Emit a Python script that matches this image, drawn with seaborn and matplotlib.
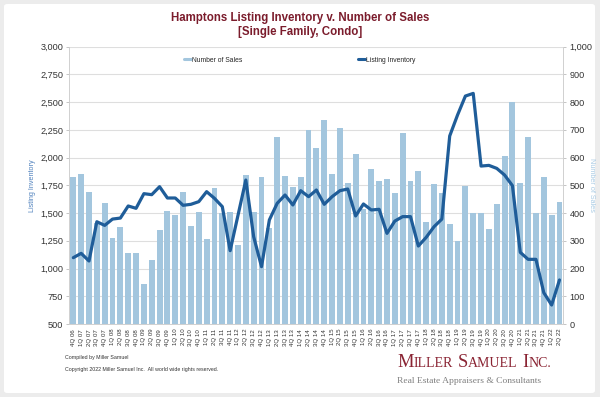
import numpy as np
import pandas as pd
import matplotlib
matplotlib.use("Agg")
import matplotlib.pyplot as plt
import seaborn as sns
from matplotlib.ticker import FuncFormatter, MultipleLocator
from matplotlib.patches import FancyBboxPatch
from matplotlib.lines import Line2D

# ---------------- data ----------------
quarters = [
    "4Q 06",
    "1Q 07", "2Q 07", "3Q 07", "4Q 07",
    "1Q 08", "2Q 08", "3Q 08", "4Q 08",
    "1Q 09", "2Q 09", "3Q 09", "4Q 09",
    "1Q 10", "2Q 10", "3Q 10", "4Q 10",
    "1Q 11", "2Q 11", "3Q 11", "4Q 11",
    "1Q 12", "2Q 12", "3Q 12", "4Q 12",
    "1Q 13", "2Q 13", "3Q 13", "4Q 13",
    "1Q 14", "2Q 14", "3Q 14", "4Q 14",
    "1Q 15", "2Q 15", "3Q 15", "4Q 15",
    "1Q 16", "2Q 16", "3Q 16", "4Q 16",
    "1Q 17", "2Q 17", "3Q 17", "4Q 17",
    "1Q 18", "2Q 18", "3Q 18", "4Q 18",
    "1Q 19", "2Q 19", "3Q 19", "4Q 19",
    "1Q 20", "2Q 20", "3Q 20", "4Q 20",
    "1Q 21", "2Q 21", "3Q 21", "4Q 21",
    "1Q 22", "2Q 22",
]

number_of_sales = [
    529, 540, 476, 365, 437, 310, 351, 255, 255, 143,
    230, 338, 409, 394, 477, 353, 403, 307, 490, 400,
    403, 285, 539, 403, 529, 347, 676, 535, 495, 529,
    700, 633, 734, 540, 707, 507, 613, 415, 560, 516,
    523, 472, 690, 516, 552, 367, 504, 474, 361, 299,
    498, 400, 400, 341, 433, 607, 802, 509, 676, 399,
    530, 394, 441,
]

listing_inventory = [
    1098, 1137, 1068, 1422, 1389, 1446, 1455, 1564, 1543, 1675,
    1666, 1738, 1636, 1636, 1570, 1579, 1603, 1693, 1633, 1558,
    1161, 1480, 1798, 1287, 1017, 1438, 1588, 1663, 1573, 1702,
    1648, 1708, 1579, 1648, 1702, 1717, 1474, 1582, 1528, 1534,
    1317, 1428, 1468, 1468, 1203, 1281, 1377, 1446, 2195, 2384,
    2555, 2579, 1924, 1930, 1903, 1843, 1747, 1146, 1083, 1083,
    782, 671, 897,
]

title_lines = ["Hamptons Listing Inventory v. Number of Sales", "[Single Family, Condo]"]

df = pd.DataFrame({
    "quarter": quarters,
    "sales": number_of_sales,
    "inventory": listing_inventory,
})
df["pos"] = np.arange(len(df))

# ---------------- style ----------------
sns.set_theme(style="white")
plt.rcParams["font.family"] = ["Liberation Sans", "DejaVu Sans"]

bar_color = "#a3c6de"
line_color = "#1f5d99"
title_color = "#7b1c2c"
grid_color = "#dedede"
text_color = "#333333"

W, H = 600, 397
fig = plt.figure(figsize=(W / 100, H / 100), dpi=100, facecolor="#ececec")
fig.patches.append(FancyBboxPatch((4 / W, 4 / H), 591 / W, 389 / H,
                                  boxstyle="round,pad=0,rounding_size=0.006",
                                  transform=fig.transFigure, facecolor="white",
                                  edgecolor="none", zorder=-10))

left, right, top, bottom = 69.4, 563.4, 46.7, 324.0
ax = fig.add_axes([left / W, 1 - bottom / H, (right - left) / W, (bottom - top) / H])
ax2 = ax.twinx()

# bars on the secondary (right) axis
sns.barplot(data=df, x="quarter", y="sales", order=quarters, color=bar_color,
            saturation=1, width=0.75, errorbar=None, edgecolor="none",
            linewidth=0, ax=ax2)
# line on primary (left) axis
sns.lineplot(data=df, x="pos", y="inventory", sort=False, color=line_color,
             lw=2.3, ax=ax)

ax.set_zorder(ax2.get_zorder() + 1)
ax.patch.set_visible(False)

fmt = FuncFormatter(lambda v, p: f"{v:,.0f}")
ax.set_ylim(500, 3000)
ax.yaxis.set_major_locator(MultipleLocator(250))
ax.yaxis.set_major_formatter(fmt)
ax2.set_ylim(0, 1000)
ax2.yaxis.set_major_locator(MultipleLocator(100))
ax2.yaxis.set_major_formatter(fmt)

ax2.yaxis.grid(True, color=grid_color, lw=0.8)
ax2.xaxis.grid(False)
ax.grid(False)
ax2.set_axisbelow(True)

ax.set_xlim(-0.5, len(quarters) - 0.5)
ax.set_xticks(df["pos"])
ax.set_xticklabels(quarters, rotation=90)

ax.set_xlabel("")
ax2.set_xlabel("")
ax.set_ylabel("Listing Inventory", color="#4f81bd", fontsize=5.2, labelpad=3)
ax2.set_ylabel("Number of Sales", color="#a9cbe4", fontsize=5.2, rotation=270,
               labelpad=2)

for a in (ax, ax2):
    a.tick_params(axis="y", labelsize=6.6, colors=text_color, length=2.5,
                  width=0.6, pad=2)
    for s in a.spines.values():
        s.set_color("#d0d0d0")
        s.set_linewidth(0.6)
    a.spines["top"].set_visible(False)
for lab in ax.get_yticklabels() + ax2.get_yticklabels():
    lab.set_color(text_color)
ax.tick_params(axis="y", color="#bbbbbb")
ax2.tick_params(axis="y", color="#bbbbbb")
ax.tick_params(axis="x", labelsize=4.4, colors=text_color, length=2, width=0.5,
               pad=1.5, color="#bbbbbb")

# legend
handles = [Line2D([], [], color=bar_color, lw=2.2),
           Line2D([], [], color=line_color, lw=2.2)]
fig.legend(handles, ["Number of Sales", "Listing Inventory"], loc="center",
           bbox_to_anchor=(0.5, 1 - 60 / H), ncol=2, frameon=False,
           fontsize=4.9, handlelength=1.0, handletextpad=0.2,
           columnspacing=17)

# title
fig.text(0.5, 1 - 18 / H, title_lines[0], ha="center", va="center",
         fontsize=8.3, fontweight="bold", color=title_color)
fig.text(0.5, 1 - 32 / H, title_lines[1], ha="center", va="center",
         fontsize=8.3, fontweight="bold", color=title_color)

# footer
fig.text(65 / W, 1 - 357 / H, "Compiled by Miller Samuel", fontsize=3.8,
         color=text_color, va="center")
fig.text(65 / W, 1 - 370 / H,
         "Copyright 2022 Miller Samuel Inc.  All world wide rights reserved.",
         fontsize=3.8, color=text_color, va="center")

# logo in small caps
logo_color = "#8a2433"
serif = ["Liberation Serif", "DejaVu Serif"]
base_y = 1 - 367 / H
pieces = [("M", 13.2, 0), ("ILLER", 10.0, 0), ("S", 13.2, 3.5), ("AMUEL", 10.0, 0),
          ("I", 13.2, 3.5), ("NC.", 10.0, 0)]
prev = fig.text(397 / W, base_y, pieces[0][0], fontsize=pieces[0][1],
                family=serif, color=logo_color, va="baseline", ha="left")
for txt, fs, gap in pieces[1:]:
    prev = ax.annotate(
        txt, xy=(1, base_y), xycoords=(prev, "figure fraction"),
        xytext=(gap, 0), textcoords="offset points", fontsize=fs,
        family=serif, color=logo_color, va="baseline", ha="left",
        annotation_clip=False)
fig.text(397 / W, 1 - 381 / H, "Real Estate Appraisers & Consultants",
         fontsize=6.8, family=serif, color="#7f7f7f", va="center", ha="left")

fig.savefig("out.png", dpi=100, facecolor=fig.get_facecolor())
